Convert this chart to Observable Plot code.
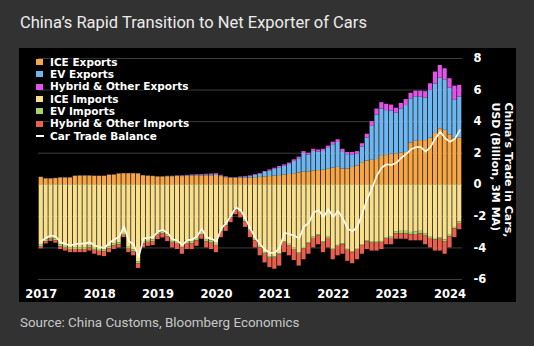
<!DOCTYPE html>
<html><head><meta charset="utf-8">
<script src="https://cdn.jsdelivr.net/npm/d3@7"></script>
<script src="https://cdn.jsdelivr.net/npm/@observablehq/plot@0.6"></script>
<style>
html,body{margin:0;padding:0;background:#323232;width:534px;height:346px;overflow:hidden;position:relative;}
#title{position:absolute;left:20px;top:13.4px;font-family:Roboto,sans-serif;font-size:16.5px;line-height:20px;color:#ececec;white-space:nowrap;}
#panel{position:absolute;left:19px;top:48px;width:497px;height:254px;background:#000;}
#panel svg{display:block;}
#legend{position:absolute;left:36px;top:55.7px;font-family:"DejaVu Sans",sans-serif;font-weight:bold;font-size:10.5px;line-height:12.33px;color:#fff;}
#legend .row{position:relative;height:12.33px;white-space:nowrap;}
#legend .sw{position:absolute;left:0;top:3.4px;width:7px;height:6px;}
#legend .ln{position:absolute;left:0;top:5.6px;width:8px;height:1.6px;background:#fff;}
#legend .lab{position:absolute;left:14px;top:0;text-shadow:0 0 2px #000,0 0 2px #000,0 0 3px #000,0 0 4px #000;}
#source{position:absolute;left:20px;top:315.4px;font-family:Roboto,sans-serif;font-size:13.4px;line-height:16px;color:#c8c8c8;white-space:nowrap;}
</style></head>
<body>
<div id="title">China’s Rapid Transition to Net Exporter of Cars</div>
<div id="panel"></div>
<div id="legend"></div>
<div id="source">Source: China Customs, Bloomberg Economics</div>
<script>
// ---- data (USD billion, 3M MA), monthly Jan 2017 – Mar 2024 ----
const yearLabels = ["2017","2018","2019","2020","2021","2022","2023","2024"];
const yTicks = [-6, -4, -2, 0, 2, 4, 6, 8];
const seriesNames = ["ICE Exports","EV Exports","Hybrid & Other Exports","ICE Imports","EV Imports","Hybrid & Other Imports"];
const balanceName = "Car Trade Balance";
const yLabel = "China’s Trade in Cars,\nUSD (Billion, 3M MA)";

const iceExp = [
0.46,0.37,0.37,0.39,0.43,0.43,0.43,0.53,0.55,0.55,0.55,0.53,
0.53,0.53,0.60,0.61,0.68,0.70,0.70,0.70,0.69,0.57,0.54,0.52,
0.49,0.49,0.51,0.51,0.53,0.52,0.55,0.56,0.57,0.56,0.57,0.57,
0.60,0.52,0.45,0.41,0.41,0.43,0.43,0.43,0.45,0.47,0.50,0.52,
0.55,0.58,0.62,0.65,0.70,0.75,0.80,0.82,0.88,0.90,0.92,0.98,
1.05,1.10,1.00,1.00,1.10,1.20,1.40,1.50,1.55,1.60,1.85,1.85,
1.95,1.95,2.00,2.05,2.65,2.75,2.80,2.80,2.95,3.25,3.55,3.45,
3.15,2.95,2.95];
const evExp = [
0.01,0.01,0.01,0.01,0.01,0.01,0.01,0.01,0.01,0.01,0.01,0.01,
0.01,0.01,0.01,0.01,0.01,0.01,0.01,0.01,0.01,0.01,0.01,0.01,
0.01,0.01,0.02,0.02,0.02,0.03,0.03,0.03,0.04,0.05,0.05,0.06,
0.05,0.04,0.03,0.02,0.02,0.04,0.06,0.09,0.14,0.20,0.28,0.36,
0.43,0.50,0.56,0.63,0.78,0.90,1.18,1.06,1.24,1.17,1.19,1.32,
1.49,1.58,1.10,0.91,0.80,0.75,1.00,1.45,2.15,2.82,2.95,2.85,
2.72,2.58,2.80,2.97,2.79,2.82,2.77,2.70,3.03,3.14,3.21,3.20,
2.97,2.40,2.60];
const hybExp = [
0.01,0.01,0.01,0.01,0.01,0.01,0.01,0.01,0.01,0.01,0.01,0.01,
0.01,0.01,0.01,0.01,0.01,0.01,0.01,0.01,0.01,0.01,0.01,0.01,
0.01,0.01,0.01,0.01,0.02,0.02,0.02,0.03,0.03,0.04,0.05,0.05,
0.05,0.04,0.03,0.03,0.03,0.03,0.04,0.04,0.05,0.05,0.06,0.06,
0.07,0.08,0.08,0.09,0.10,0.10,0.12,0.12,0.13,0.13,0.14,0.15,
0.16,0.17,0.15,0.14,0.15,0.15,0.20,0.25,0.30,0.38,0.40,0.40,
0.38,0.32,0.35,0.38,0.36,0.36,0.36,0.40,0.42,0.75,0.80,0.70,
0.60,0.90,0.75];
const iceImp = [
3.79,3.48,3.33,3.43,3.80,3.90,3.98,3.98,3.98,3.98,3.86,4.03,
4.10,4.13,3.93,3.76,3.68,3.08,3.96,4.13,4.88,3.63,3.53,3.48,
3.07,2.97,3.17,3.52,3.58,3.84,3.57,3.60,3.40,3.00,3.47,3.55,
3.71,2.88,2.50,2.00,1.52,1.70,2.25,2.85,3.45,3.90,4.30,4.55,
4.57,4.37,3.62,3.77,4.02,4.32,3.97,3.67,3.32,3.17,3.62,3.32,
4.04,3.84,3.74,4.09,4.24,4.04,3.79,3.54,3.64,3.64,3.59,3.34,
3.32,3.00,2.95,2.95,3.02,3.00,2.95,3.10,3.28,3.40,3.35,3.50,
3.20,2.70,2.35];
const evImp = [
0.12,0.12,0.12,0.12,0.12,0.12,0.12,0.12,0.12,0.12,0.12,0.12,
0.12,0.12,0.12,0.12,0.12,0.12,0.12,0.12,0.12,0.12,0.12,0.12,
0.12,0.12,0.13,0.13,0.14,0.14,0.15,0.15,0.15,0.15,0.15,0.15,
0.14,0.12,0.10,0.08,0.08,0.10,0.10,0.10,0.10,0.10,0.10,0.10,
0.08,0.08,0.08,0.08,0.08,0.08,0.08,0.08,0.08,0.08,0.08,0.08,
0.06,0.06,0.06,0.06,0.06,0.06,0.06,0.06,0.06,0.06,0.06,0.06,
0.08,0.10,0.15,0.15,0.15,0.15,0.15,0.15,0.12,0.10,0.10,0.10,
0.10,0.10,0.10];
const hybImp = [
0.15,0.15,0.15,0.15,0.18,0.18,0.20,0.20,0.20,0.20,0.22,0.25,
0.28,0.30,0.25,0.22,0.20,0.15,0.22,0.25,0.30,0.25,0.25,0.25,
0.28,0.28,0.30,0.35,0.38,0.42,0.38,0.35,0.35,0.30,0.38,0.40,
0.45,0.35,0.35,0.32,0.30,0.30,0.35,0.40,0.45,0.50,0.55,0.60,
0.70,0.70,0.60,0.65,0.70,0.75,0.70,0.65,0.60,0.55,0.60,0.60,
0.65,0.60,0.60,0.70,0.70,0.65,0.55,0.50,0.50,0.50,0.45,0.40,
0.40,0.35,0.35,0.35,0.38,0.40,0.45,0.55,0.60,0.70,0.75,0.80,
0.70,0.55,0.40];
const balance = [
-3.58,-3.36,-3.21,-3.29,-3.65,-3.75,-3.85,-3.75,-3.73,-3.73,-3.63,-3.85,
-3.95,-4.00,-3.68,-3.47,-3.30,-2.63,-3.58,-3.78,-4.59,-3.41,-3.34,-3.31,
-2.96,-2.86,-3.06,-3.46,-3.53,-3.83,-3.50,-3.48,-3.26,-2.80,-3.33,-3.42,
-3.60,-2.75,-2.44,-1.94,-1.44,-1.60,-2.17,-2.79,-3.36,-3.78,-4.11,-4.31,
-4.30,-3.99,-3.04,-3.13,-3.22,-3.40,-2.65,-2.40,-1.75,-1.60,-2.05,-1.55,
-2.05,-1.65,-2.15,-2.80,-2.95,-2.65,-1.80,-0.90,-0.20,0.60,1.10,1.30,
1.25,1.40,1.70,1.95,2.25,2.38,2.38,2.10,2.40,2.94,3.36,2.95,
2.72,2.90,3.45];

// ---- styles ----
const seriesColors = ["#f5a748","#6fb6ee","#e055e6","#f7df8d","#a5d56a","#e8604f"];
const lineColor = "#fffbea";

// ---- build tables ----
const months = d3.utcMonth.range(new Date(Date.UTC(2017,0,1)), new Date(Date.UTC(2024,3,1))).map(d3.utcFormat("%Y-%m"));
const seriesValues = [iceExp, evExp, hybExp, iceImp, evImp, hybImp];
const signs = [1, 1, 1, -1, -1, -1];
const rows = [];
seriesNames.forEach((name, s) => {
  seriesValues[s].forEach((v, i) => rows.push({month: months[i], series: name, value: signs[s] * v}));
});
const balanceRows = balance.map((v, i) => ({month: months[i], value: v}));

const chart = Plot.plot({
  width: 497, height: 254,
  marginLeft: 19, marginRight: 54, marginTop: 10, marginBottom: 23,
  style: {background: "#000", color: "#fff", fontFamily: "'DejaVu Sans', sans-serif", fontWeight: "bold", fontSize: "11.5px", overflow: "visible"},
  x: {type: "band", domain: months, padding: 0.14, align: 0.5},
  y: {domain: [-6, 8]},
  color: {domain: seriesNames, range: seriesColors},
  marks: [
    Plot.gridY(yTicks, {stroke: "#3e3e3e", strokeOpacity: 1, strokeWidth: 1}),
    Plot.barY(rows, {x: "month", y: "value", fill: "series", inset: 0}),
    Plot.lineY(balanceRows, {x: "month", y: "value", stroke: lineColor, strokeWidth: 1.7}),
    Plot.axisX({ticks: yearLabels.map(y => y + "-01"), tickFormat: d => d.slice(0, 4), tickSize: 0, tickPadding: 10, label: null, fill: "#fff", fontWeight: "bold", fontSize: 11.5}),
    Plot.axisY({anchor: "right", ticks: yTicks, tickFormat: d => String(d), tickSize: 0, tickPadding: 11, label: null, fill: "#fff", fontWeight: "bold", fontSize: 11.5}),
    Plot.text([yLabel], {frameAnchor: "top-right", text: d => d, rotate: 90, textAnchor: "start", lineAnchor: "top", dx: 51, dy: 44, fill: "#fff", fontSize: 11, fontWeight: "bold", lineHeight: 1.15})
  ]
});
document.getElementById("panel").appendChild(chart);

// ---- legend ----
const legend = d3.select("#legend");
seriesNames.forEach((name, s) => {
  const r = legend.append("div").attr("class", "row");
  r.append("div").attr("class", "sw").style("background", seriesColors[s]);
  r.append("div").attr("class", "lab").text(name);
});
{
  const r = legend.append("div").attr("class", "row");
  r.append("div").attr("class", "ln").style("background", lineColor);
  r.append("div").attr("class", "lab").text(balanceName);
}
</script>
</body></html>
